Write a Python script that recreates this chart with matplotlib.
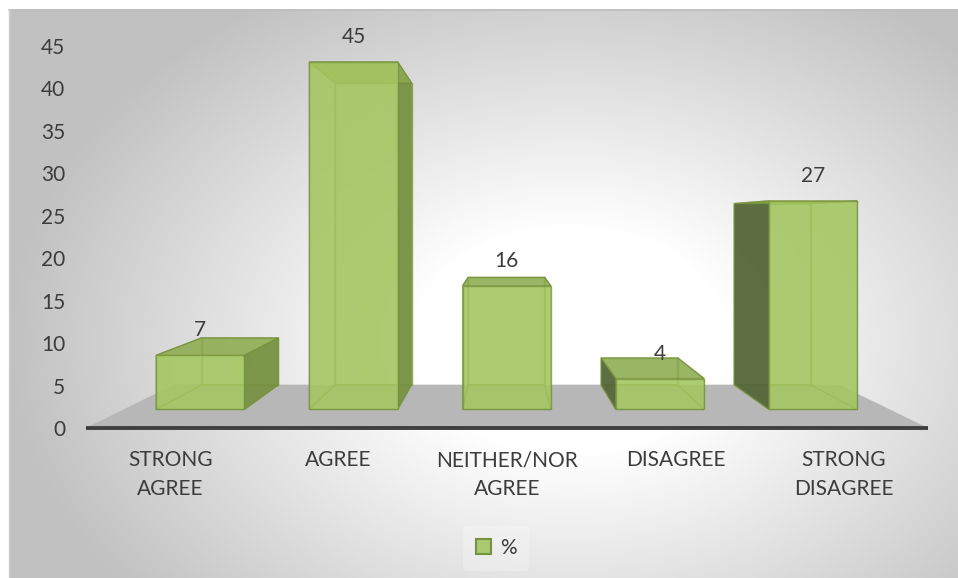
import numpy as np
import matplotlib.pyplot as plt
from matplotlib.patches import Polygon, Patch

plt.rcParams['font.family'] = ['Lato', 'DejaVu Sans']

categories = ['STRONG\nAGREE', 'AGREE', 'NEITHER/NOR\nAGREE', 'DISAGREE', 'STRONG\nDISAGREE']
values = [7, 45, 16, 4, 27]
series_name = '%'
yticks = list(range(0, 50, 5))

text_color = '#3c3c3c'
face_color = '#a4c660'
edge_color = '#76923c'
dark_side = '#56673a'
mid_side = '#789244'
top_color = '#8dab50'
floor_color = '#b7b7b7'

# simple perspective: points shrink toward a vanishing point (data units)
VX, VY = 1.98, 24.3
S_FRONT, S_BACK = 0.91, 0.79
HALF = 0.2875


def proj(x, y, s):
    return (VX + (x - VX) * s, VY + (y - VY) * s)


fig = plt.figure(figsize=(9.58, 5.78), dpi=100)

# chart area background with radial gradient
bg = fig.add_axes([0, 0, 1, 1])
bg.set_xlim(0, 958)
bg.set_ylim(578, 0)
bg.set_axis_off()
xx, yy = np.meshgrid(np.arange(9, 958), np.arange(9, 578))
t = np.sqrt(((xx - 570) / 560.0) ** 2 + ((yy - 340) / 400.0) ** 2)
t = np.clip((t - 0.28) / 0.72, 0, 1)
shade = 1.0 - 0.24 * t
img = np.dstack([shade, shade, shade])
bg.imshow(img, extent=[9, 958, 578, 9], aspect='auto', interpolation='bilinear')
bg.plot([9, 958], [9.5, 9.5], color='#bfbfbf', lw=1.2)
bg.plot([9.5, 9.5], [9, 578], color='#cfcfcf', lw=1.0)

ax = fig.add_axes([86 / 958, 150 / 578, 842 / 958, 382 / 578])
ax.set_xlim(-0.5, 4.5)
ax.set_ylim(0, 45)
ax.patch.set_alpha(0)
for sp in ax.spines.values():
    sp.set_visible(False)
ax.set_yticks(yticks)
ax.set_xticks(range(len(categories)))
ax.set_xticklabels(categories, linespacing=1.55)
ax.tick_params(axis='both', length=0, labelsize=15, labelcolor=text_color)
ax.tick_params(axis='y', pad=15)
ax.tick_params(axis='x', pad=16)

# floor
n = len(categories)
floor = [proj(-0.5, 0, 1), proj(n - 0.5, 0, 1), proj(n - 0.5, 0, S_BACK), proj(-0.5, 0, S_BACK)]
ax.add_patch(Polygon(floor, closed=True, facecolor=floor_color, edgecolor='none', clip_on=False, zorder=1))
ax.plot([-0.5, n - 0.5], [0, 0], color='#3f3f3f', lw=2.8, solid_capstyle='butt', clip_on=False, zorder=2)

for i, v in enumerate(values):
    def corner(dx, h, s):
        return proj(i + dx * HALF, h, s)

    # outer side faces the viewer, inner one is seen through the front
    left_visible = i - HALF > VX
    right_visible = i + HALF < VX
    left_fc, left_a = (dark_side, 0.95) if left_visible else (face_color, 0.25)
    right_fc, right_a = (mid_side, 0.95) if right_visible else (face_color, 0.25)

    faces = [
        ([corner(-1, 0, S_BACK), corner(1, 0, S_BACK), corner(1, v, S_BACK), corner(-1, v, S_BACK)], face_color, 0.3),
        ([corner(-1, 0, S_FRONT), corner(1, 0, S_FRONT), corner(1, 0, S_BACK), corner(-1, 0, S_BACK)], face_color, 0.2),
        ([corner(-1, 0, S_FRONT), corner(-1, v, S_FRONT), corner(-1, v, S_BACK), corner(-1, 0, S_BACK)], left_fc, left_a),
        ([corner(1, 0, S_FRONT), corner(1, v, S_FRONT), corner(1, v, S_BACK), corner(1, 0, S_BACK)], right_fc, right_a),
        ([corner(-1, v, S_FRONT), corner(1, v, S_FRONT), corner(1, v, S_BACK), corner(-1, v, S_BACK)], top_color, 0.85),
        ([corner(-1, 0, S_FRONT), corner(1, 0, S_FRONT), corner(1, v, S_FRONT), corner(-1, v, S_FRONT)], face_color, 0.85),
    ]
    for pts, fc, a in faces:
        ax.add_patch(Polygon(pts, closed=True, facecolor=fc, alpha=a, edgecolor='none',
                             clip_on=False, zorder=3))
        ax.add_patch(Polygon(pts, closed=True, facecolor='none', edgecolor=edge_color, lw=1.0,
                             alpha=0.75, clip_on=False, zorder=3))
    ax.annotate(str(v), xy=corner(0, v, S_FRONT), xytext=(0, 18), textcoords='offset points',
                ha='center', va='center', fontsize=15, color=text_color, annotation_clip=False, zorder=5)

handle = Patch(facecolor='#a9c870', edgecolor=edge_color, lw=1.5, label=series_name)
leg = fig.legend(handles=[handle], loc='center', bbox_to_anchor=(496 / 958, 1 - 548 / 578),
                 fontsize=15, frameon=True, handlelength=0.75, handleheight=0.75, handletextpad=0.4,
                 borderpad=0.6, labelcolor=text_color)
leg.get_frame().set_facecolor('#f7f7f7')
leg.get_frame().set_edgecolor('none')
leg.get_frame().set_alpha(0.35)

fig.savefig('out.png', dpi=100)
